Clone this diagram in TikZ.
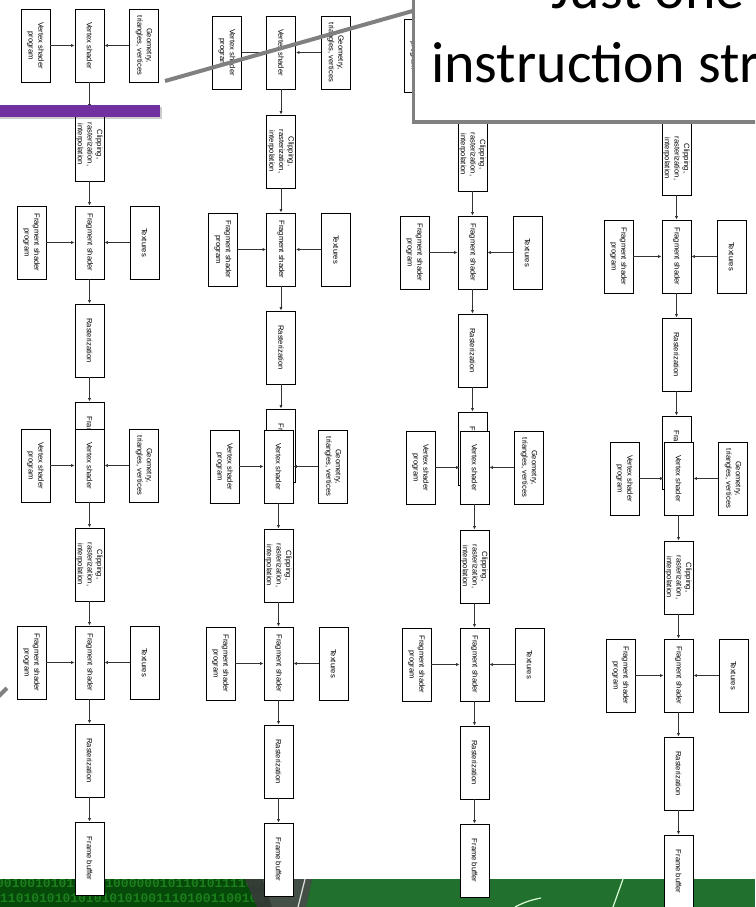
\documentclass[tikz,border=0pt]{standalone}
\usepackage{fontspec}
\setmainfont{Liberation Sans}
\newfontfamily\calloutfont{Carlito}
\newfontfamily\binfont{Liberation Mono}
\usetikzlibrary{arrows.meta}
\definecolor{slidepurple}{HTML}{7030A0}
\definecolor{callgray}{HTML}{808080}
\definecolor{stripgreen}{HTML}{22702E}
\definecolor{darkgreen}{HTML}{064A0A}
\definecolor{bingreen}{HTML}{1C7E1C}
\definecolor{bandgray}{HTML}{505050}
\tikzset{
  pbox/.style={draw=black, line width=0.9pt, fill=white, rotate=-90,
    minimum width=73pt, minimum height=29pt, inner sep=1pt, align=center,
    font=\fontsize{7.6}{9.6}\selectfont},
  arr/.style={draw=black!80, line width=0.9pt, -{Latex[length=3.5pt,width=3.2pt]}},
  gline/.style={draw=callgray, line width=4pt},
  bin/.style={font=\binfont\bfseries\fontsize{13}{13}\selectfont, text=bingreen, inner sep=0pt},
  calltext/.style={font=\calloutfont\fontsize{58}{70}\selectfont, inner sep=0pt, text=black},
}
% #1 prefix, #2 centre x of main chain, #3 top y
\newcommand\pipeline[3]{%
  \node[pbox] (#1vsp) at ({#2-54},{#3+36.5}) {Vertex shader\\program};
  \node[pbox] (#1vs) at ({#2},{#3+36.5}) {Vertex shader};
  \node[pbox] (#1geo) at ({#2+54.5},{#3+36.5}) {Geometry,\\triangles, vertices};
  \node[pbox] (#1clip) at ({#2},{#3+135.5}) {Clipping,\\rasterization,\\interpolation};
  \node[pbox] (#1fsp) at ({#2-58},{#3+233.5}) {Fragment shader\\program};
  \node[pbox] (#1fs) at ({#2},{#3+233.5}) {Fragment shader};
  \node[pbox] (#1tex) at ({#2+55},{#3+233.5}) {Textures};
  \node[pbox] (#1ras) at ({#2},{#3+331.5}) {Rasterization};
  \node[pbox] (#1fb) at ({#2},{#3+429.5}) {Frame buffer};
  \draw[arr] (#1vsp) -- (#1vs);
  \draw[arr] (#1geo) -- (#1vs);
  \draw[arr] (#1vs) -- (#1clip);
  \draw[arr] (#1clip) -- (#1fs);
  \draw[arr] (#1fsp) -- (#1fs);
  \draw[arr] (#1tex) -- (#1fs);
  \draw[arr] (#1fs) -- (#1ras);
  \draw[arr] (#1ras) -- (#1fb);
}
\begin{document}
\begin{tikzpicture}[x=1pt,y=-1pt]
\useasboundingbox (0,0) rectangle (755,907);
\clip (0,0) rectangle (755,907);
\fill[white] (0,0) rectangle (755,907);

% bottom green strip
\fill[stripgreen] (0,879) rectangle (755,907);
\begin{scope}
  \clip (0,879) -- (312,879) -- (306,907) -- (0,907) -- cycle;
  \fill[darkgreen] (0,879) rectangle (320,907);
  \node[bin, anchor=base west] (bin1) at (-4,887) {0010010101010010000001011010111100100};
  \node[bin, anchor=base west] (bin2) at (0,902) {1101010101010101010011101001100100};
  \fill[bandgray, opacity=0.85] (245,879) -- (320,879) -- (320,907) -- (257,907) -- cycle;
  \fill[black, opacity=0.25] (245,879) -- (262,879) -- (272,907) -- (257,907) -- cycle;
\end{scope}
\coordinate (wl1) at (305,879);
\coordinate (wl2) at (298,907);
\draw[white!75!gray, line width=1.2pt] (wl1) -- (wl2);
\coordinate (wa1) at (515,907);
\coordinate (wa2) at (541,898);
\draw[white!85!green, line width=1.2pt] (wa1) to[bend left=8] (wa2);
\coordinate (wb1) at (613,907);
\coordinate (wb2) at (623,879);
\draw[white!85!green, line width=1.2pt] (wb1) -- (wb2);

% pipelines, upper copies first
\pipeline{aa}{89.5}{9}
\pipeline{ba}{281}{16}
\pipeline{ca}{472.5}{19}
\pipeline{da}{676.5}{23}
\pipeline{ab}{89.5}{429}
\pipeline{bb}{278.5}{430}
\pipeline{cb}{474.5}{431}
\pipeline{db}{678.5}{442}

% purple bar
\fill[black, opacity=0.2] (0,106.5) rectangle (161.5,118.5);
\fill[slidepurple] (0,105) rectangle (160,117);

% stray callout line at lower left
\coordinate (sl1) at (-6,701);
\coordinate (sl2) at (7,688);
\draw[gline] (sl1) -- (sl2);

% callout with its pointer
\coordinate (cstart) at (425,7.5);
\coordinate (ctip) at (165,81);
\draw[gline] (cstart) -- (ctip);
\node[draw=callgray, line width=3.5pt, fill=white, anchor=south west,
  minimum width=420pt, minimum height=200pt] (callout) at (411.5,123.5) {};
\node[calltext, anchor=base west] (cl1) at (551,9) {Just one};
\node[calltext, anchor=base west] (cl2) at (431,82) {instruction str};
\end{tikzpicture}
\end{document}
